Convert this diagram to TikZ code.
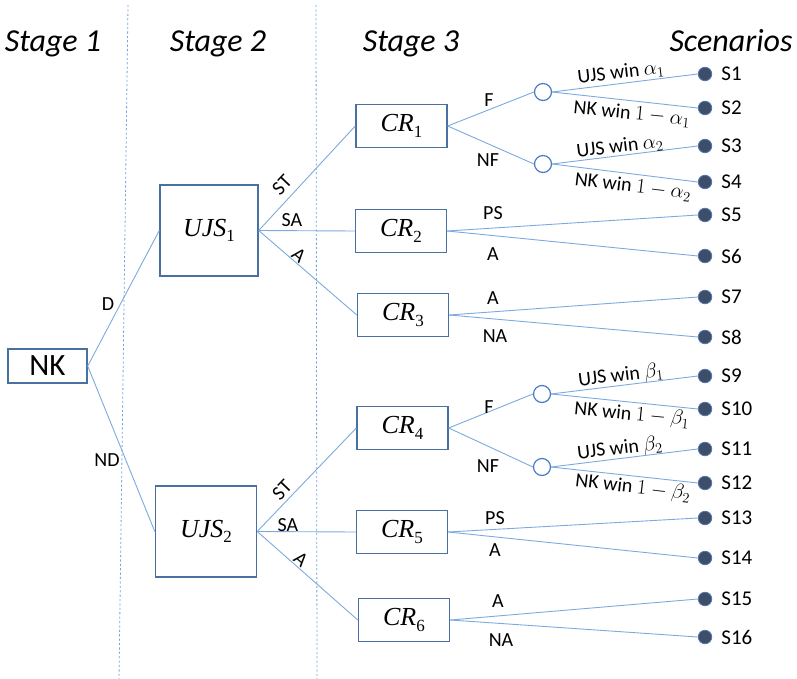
\documentclass[tikz,border=0pt]{standalone}
\usepackage{fontspec}
\setmainfont{Carlito}
\newfontfamily\symfont{Liberation Serif}
% italic symbol with an upright subscript, set in a serif face
\newcommand{\symsub}[2]{{\symfont\itshape #1}\raisebox{-0.22em}{\symfont\fontsize{17}{17}\selectfont #2}}
\definecolor{linec}{RGB}{125,170,222}
\definecolor{sepc}{RGB}{115,165,225}
\definecolor{boxc}{RGB}{72,112,160}
\definecolor{circc}{RGB}{70,125,195}
\definecolor{dotc}{RGB}{62,78,104}
\definecolor{dotedge}{RGB}{78,118,178}
\begin{document}
\begin{tikzpicture}[x=1pt,y=-1pt,
  box/.style={draw=boxc, line width=1.4pt, inner sep=0pt, minimum width=91, minimum height=43, font=\fontsize{26}{30}\selectfont},
  chance/.style={circle, draw=circc, fill=white, line width=1.2pt, minimum size=17, inner sep=0pt},
  term/.style={circle, fill=dotc, draw=dotedge, line width=0.8pt, minimum size=13.5, inner sep=0pt,
    label={[slab, label distance=9pt]right:#1}},
  slab/.style={inner sep=0pt, font=\fontsize{21}{24}\selectfont},
  edge/.style={draw=linec, line width=0.9pt},
  sep/.style={draw=sepc, line width=0.8pt, dash pattern=on 2.2pt off 2.2pt},
  hdr/.style={anchor=base, font=\fontsize{32}{38}\selectfont\itshape},
  elab/.style={inner sep=0pt, font=\fontsize{20}{22}\selectfont},
  blab/.style={inner sep=0pt, font=\fontsize{20}{22}\selectfont}]
\useasboundingbox (0,0) rectangle (797,679);

% stage separators
\coordinate (s1t) at (128,5);
\coordinate (s1b) at (119,679);
\coordinate (s2t) at (316,5);
\coordinate (s2b) at (317,679);
\draw[sep] (s1t) -- (s1b);
\draw[sep] (s2t) -- (s2b);

% headers
\node[hdr] (h1) at (53,52) {Stage 1};
\node[hdr] (h2) at (218,52) {Stage 2};
\node[hdr] (h3) at (411,52) {Stage 3};
\node[hdr] (h4) at (731,52) {Scenarios};

% decision boxes
\node[box, minimum width=79, minimum height=34, font=\fontsize{31}{36}\selectfont] (nk) at (47.5,366) {NK};
\node[box, minimum width=98, minimum height=91] (ujs1) at (209,230.5) {\symsub{UJS}{1}};
\node[box, minimum width=101, minimum height=91] (ujs2) at (206,531.5) {\symsub{UJS}{2}};
\node[box] (cr1) at (401.5,126) {\symsub{CR}{1}};
\node[box] (cr2) at (401,231) {\symsub{CR}{2}};
\node[box] (cr3) at (403,315) {\symsub{CR}{3}};
\node[box] (cr4) at (402.5,428) {\symsub{CR}{4}};
\node[box] (cr5) at (402,532) {\symsub{CR}{5}};
\node[box] (cr6) at (404,620) {\symsub{CR}{6}};

% chance nodes
\node[chance] (c1) at (543,92) {};
\node[chance] (c2) at (543,164) {};
\node[chance] (c3) at (542,394) {};
\node[chance] (c4) at (542,467) {};

% scenario end points
\node[term=S1] (t1) at (705,74) {};
\node[term=S2] (t2) at (705,108) {};
\node[term=S3] (t3) at (705,146) {};
\node[term=S4] (t4) at (705,182) {};
\node[term=S5] (t5) at (705,215) {};
\node[term=S6] (t6) at (705,256) {};
\node[term=S7] (t7) at (705,297) {};
\node[term=S8] (t8) at (705,337) {};
\node[term=S9] (t9) at (705,376) {};
\node[term=S10] (t10) at (705,409) {};
\node[term=S11] (t11) at (705,449) {};
\node[term=S12] (t12) at (705,483) {};
\node[term=S13] (t13) at (705,518) {};
\node[term=S14] (t14) at (705,558) {};
\node[term=S15] (t15) at (705,599) {};
\node[term=S16] (t16) at (705,637) {};

% connectors
\draw[edge] (nk.east) -- (ujs1.west);
\draw[edge] (nk.east) -- (ujs2.west);
\draw[edge] (ujs1.east) -- (cr1.west);
\draw[edge] (ujs1.east) -- (cr2.west);
\draw[edge] (ujs1.east) -- (cr3.west);
\draw[edge] (ujs2.east) -- (cr4.west);
\draw[edge] (ujs2.east) -- (cr5.west);
\draw[edge] (ujs2.east) -- (cr6.west);
\draw[edge] (cr1.east) -- (c1.west);
\draw[edge] (cr1.east) -- (c2.west);
\draw[edge] (cr4.east) -- (c3.west);
\draw[edge] (cr4.east) -- (c4.west);
\draw[edge] (c1.east) -- (t1.west);
\draw[edge] (c1.east) -- (t2.west);
\draw[edge] (c2.east) -- (t3.west);
\draw[edge] (c2.east) -- (t4.west);
\draw[edge] (c3.east) -- (t9.west);
\draw[edge] (c3.east) -- (t10.west);
\draw[edge] (c4.east) -- (t11.west);
\draw[edge] (c4.east) -- (t12.west);
\draw[edge] (cr2.east) -- (t5.west);
\draw[edge] (cr2.east) -- (t6.west);
\draw[edge] (cr3.east) -- (t7.west);
\draw[edge] (cr3.east) -- (t8.west);
\draw[edge] (cr5.east) -- (t13.west);
\draw[edge] (cr5.east) -- (t14.west);
\draw[edge] (cr6.east) -- (t15.west);
\draw[edge] (cr6.east) -- (t16.west);

% branch labels
\node[elab] (lD) at (108,304) {D};
\node[elab] (lND) at (107,460) {ND};
\node[elab, rotate=46.5] (lst1) at (282,185) {ST};
\node[elab] (lsa1) at (292,220) {SA};
\node[elab, rotate=-40] (la1) at (299,255) {A};
\node[elab, rotate=46] (lst2) at (282,490) {ST};
\node[elab] (lsa2) at (288,525) {SA};
\node[elab, rotate=-41] (la2) at (301,559) {A};
\node[elab] (lf1) at (489,100) {F};
\node[elab] (lnf1) at (488,160) {NF};
\node[elab] (lps1) at (493,213) {PS};
\node[elab] (la3) at (493,254) {A};
\node[elab] (la4) at (493,298) {A};
\node[elab] (lna1) at (495,336) {NA};
\node[elab] (lf2) at (489,407) {F};
\node[elab] (lnf2) at (488,466) {NF};
\node[elab] (lps2) at (495,518) {PS};
\node[elab] (la5) at (495,550) {A};
\node[elab] (la6) at (498,601) {A};
\node[elab] (lna2) at (501,640) {NA};

% outcome labels
\node[blab, rotate=6.8] (w1) at (621,73) {UJS win $\alpha_1$};
\node[blab, rotate=-5.6] (w2) at (632,114) {NK win $1-\alpha_1$};
\node[blab, rotate=6.8] (w3) at (620,147) {UJS win $\alpha_2$};
\node[blab, rotate=-6.8] (w4) at (633,187) {NK win $1-\alpha_2$};
\node[blab, rotate=6.8] (w5) at (621,376) {UJS win $\beta_1$};
\node[blab, rotate=-5.6] (w6) at (632,415) {NK win $1-\beta_1$};
\node[blab, rotate=6.8] (w7) at (620,449) {UJS win $\beta_2$};
\node[blab, rotate=-6.8] (w8) at (633,488) {NK win $1-\beta_2$};
\end{tikzpicture}
\end{document}
